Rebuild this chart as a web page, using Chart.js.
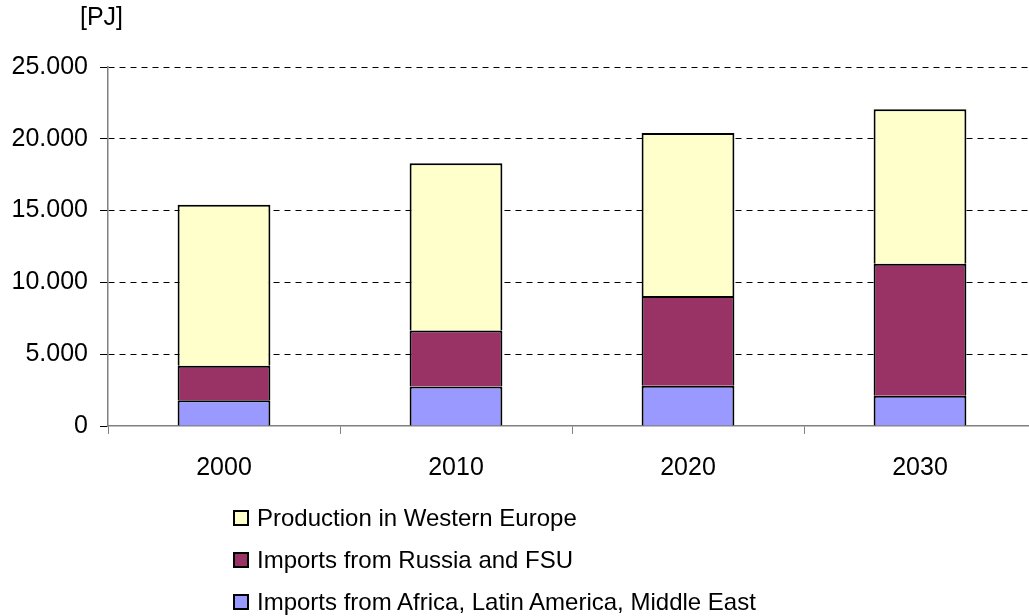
<!DOCTYPE html>
<html>
<head>
<meta charset="utf-8">
<script src="https://cdn.jsdelivr.net/npm/chart.js@4.4.1/dist/chart.umd.min.js"></script>
<style>
    html, body { margin: 0; padding: 0; background: #fff; overflow: hidden; }
    #wrap { position: relative; width: 1029px; height: 616px; overflow: hidden; font-family: "Liberation Sans", Arial, sans-serif; color: #000; }
    #box { position: absolute; left: 0; top: 0; width: 1036px; height: 616px; }
    #unit { position: absolute; left: 80px; top: 2px; font-size: 25px; }
    #legend { position: absolute; left: 233px; top: 497px; margin: 0; padding: 0; list-style: none; font-size: 24px; }
    #legend li { height: 42px; line-height: 34px; display: flex; align-items: center; }
    #legend .sw { display: inline-block; width: 12px; height: 12px; border: 2px solid #000; margin-right: 8px; }
</style>
</head>
<body>
<div id="wrap">
    <div id="box"><canvas id="chart"></canvas></div>
    <div id="unit">[PJ]</div>
    <ul id="legend"></ul>
</div>
<script>
// --- DATA ---
const years = ['2000', '2010', '2020', '2030'];
const africaImports = [1800, 2750, 2800, 2100];
const russiaImports = [2400, 3900, 6250, 9200];
const westernProduction = [11200, 11650, 11350, 10750];
const yTicks = [0, 5000, 10000, 15000, 20000, 25000];

const seriesNames = ['Imports from Africa, Latin America, Middle East', 'Imports from Russia and FSU', 'Production in Western Europe'];
const seriesColors = ['#9999FF', '#993366', '#FFFFCC'];

// --- HELPERS ---
const fmt = (v) => String(v).replace(/\B(?=(\d{3})+(?!\d))/g, '.');
const FONT = "'Liberation Sans', Arial, sans-serif";

const makeSet = (i, data) => ({
    label: seriesNames[i], data: data,
    backgroundColor: seriesColors[i], borderColor: '#000', borderWidth: 2,
    categoryPercentage: 0.4, barPercentage: 1
});

const chart = new Chart(document.getElementById('chart'), {
    type: 'bar',
    data: {
        labels: years,
        datasets: [makeSet(0, africaImports), makeSet(1, russiaImports), makeSet(2, westernProduction)]
    },
    options: {
        responsive: true, maintainAspectRatio: false, animation: false,
        layout: { padding: { top: 67, left: 0, right: 0, bottom: 0 } },
        plugins: { legend: { display: false }, tooltip: { enabled: false } },
        scales: {
            x: {
                stacked: true,
                afterFit: (s) => { s.height = 190; },
                grid: { offset: true, drawOnChartArea: false, drawTicks: true, tickLength: 8, color: '#808080' },
                border: { color: '#808080', width: 1.5 },
                ticks: { color: '#000', padding: 19, font: { family: FONT, size: 25 } }
            },
            y: {
                stacked: true, min: 0, max: 25000,
                afterFit: (s) => { s.width = 108; },
                afterBuildTicks: (s) => { s.ticks = yTicks.map(v => ({ value: v })); },
                grid: {
                    color: (c) => c.tick && c.tick.value === 0 ? 'rgba(0,0,0,0)' : '#000',
                    tickColor: '#000', tickLength: 8, lineWidth: 1
                },
                border: { color: '#808080', width: 1.5, dash: [6, 5] },
                ticks: { color: '#000', padding: 12, callback: (v) => fmt(v), font: { family: FONT, size: 25 } }
            }
        }
    }
});

// --- LEGEND (one entry per row, top series first) ---
const legendEl = document.getElementById('legend');
[2, 1, 0].forEach(i => {
    const li = document.createElement('li');
    li.innerHTML = `<span class="sw" style="background:${seriesColors[i]}"></span>${seriesNames[i]}`;
    legendEl.appendChild(li);
});
</script>
</body>
</html>
